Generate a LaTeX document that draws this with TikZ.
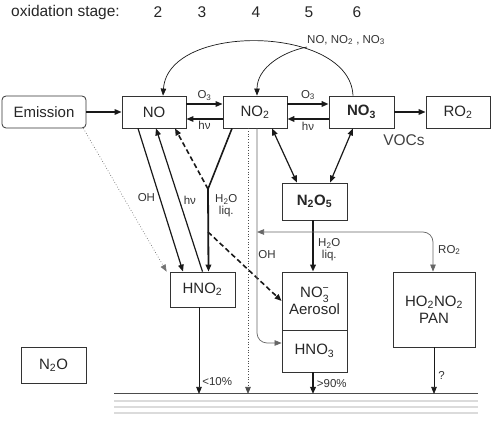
\documentclass[tikz,border=0pt]{standalone}
\usepackage{fontspec}
\setmainfont{Liberation Sans}
\usetikzlibrary{arrows.meta}

\begin{document}
\begin{tikzpicture}[x=1pt, y=-1pt,
  box/.style={draw=black!80, line width=0.8pt, inner sep=0pt, text=black!85,
    minimum width=64pt, minimum height=32pt, align=center, font=\fontsize{15}{17}\selectfont},
  lbl/.style={inner sep=1pt, text=black!80, font=\fontsize{11.5}{12}\selectfont},
  hdr/.style={inner sep=0pt, text=black!85, font=\fontsize{15.5}{17}\selectfont},
  tip/.style={-{Triangle[length=7pt, width=5.5pt]}},
  flow/.style={tip, draw=black!90, line width=1.2pt},
  heavy/.style={tip, draw=black!90, line width=2.2pt},
  thin/.style={tip, draw=black!90, line width=0.7pt},
  both/.style={{Triangle[length=7pt, width=5.5pt]}-{Triangle[length=7pt, width=5.5pt]}, draw=black!90, line width=1.2pt},
  wet/.style={tip, draw=black!90, line width=1.6pt, dash pattern=on 5pt off 3pt}]
\useasboundingbox (0,0) rectangle (493,427);

% header
\node[hdr, anchor=west] (oxs) at (11,12) {oxidation stage:};
\foreach \n/\x in {2/158, 3/202, 4/256, 5/309, 6/357}
  \node[hdr] (st\n) at (\x,12) {\n};

% boxes
\node[box, rounded corners=4pt, minimum width=84pt] (emis) at (44,112) {Emission};
\node[box] (no) at (154,112) {NO};
\node[box] (no2) at (255,112) {NO\textsubscript{2}};
\node[box, minimum width=65pt] (no3) at (361.5,112) {\textbf{NO\textsubscript{3}}};
\node[box] (ro2) at (458,112) {RO\textsubscript{2}};
\node[box, minimum width=65pt, minimum height=37pt] (n2o5) at (314.5,201.5) {\textbf{N\textsubscript{2}O\textsubscript{5}}};
\node[box, minimum width=65pt, minimum height=35pt] (hno2) at (202.5,289.5) {HNO\textsubscript{2}};
\node[box, minimum width=65pt, minimum height=58pt] (aer) at (314.5,301)
  {NO\raisebox{-4.5pt}{\fontsize{10.5}{9}\selectfont\shortstack{−\\3}}\\Aerosol};
\node[box, minimum width=65pt, minimum height=42pt] (hno3) at (314.5,351) {HNO\textsubscript{3}};
\node[box, minimum width=82pt, minimum height=75pt] (pan) at (434,309.5) {HO\textsubscript{2}NO\textsubscript{2}\\PAN};
\node[box, minimum width=65pt, minimum height=36pt] (n2o) at (53.5,365) {N\textsubscript{2}O};

% ground
\coordinate (gl) at (114,394);
\coordinate (gr) at (478,394);
\foreach \y in {401,407,413}
  \draw[black!14, line width=2.6pt] (114,\y) -- (478,\y);
\draw[black!70, line width=1pt] (gl) -- (gr);
\coordinate (g1) at (199,394);
\coordinate (g2) at (248,394);
\coordinate (g3) at (313,394);
\coordinate (g4) at (434,394);

% junctions
\coordinate (jn) at (208,189);
\coordinate (jd) at (208,232);
\coordinate (og) at (257,232);
\coordinate (br) at (307,47);

% horizontal chain
\draw[flow, line width=1.5pt] (emis) -- (no);
\draw[flow] ([yshift=8pt]no.east) -- ([yshift=8pt]no2.west)
  node[lbl, midway, above=2pt] (o3a) {O\textsubscript{3}};
\draw[flow] ([yshift=-7pt]no2.west) -- ([yshift=-7pt]no.east)
  node[lbl, midway, below=1pt] (hva) {hν};
\draw[flow, line width=2pt] ([yshift=8pt]no2.east) -- ([yshift=8pt]no3.west)
  node[lbl, midway, above=2pt] (o3b) {O\textsubscript{3}};
\draw[heavy] ([yshift=-7pt]no3.west) -- ([yshift=-7pt]no2.east)
  node[lbl, midway, below=1pt] (hvb) {hν};
\draw[flow, line width=1.6pt] (no3) -- (ro2);
\node[hdr, text=black!75] (vocs) at (404,140) {VOCs};

% back reactions
\node[lbl, anchor=west] (nox) at (306,40) {NO, NO\textsubscript{2} , NO\textsubscript{3}};
\draw[thin] ([xshift=-8.5pt]no3.north) .. controls (350,25) and (168,22) .. ([xshift=9pt]no.north);
\draw[thin] (br) .. controls (282,52) and (257,68) .. ([xshift=2pt]no2.north);

% NO <-> HNO2
\draw[flow] ([xshift=-16pt]no.south) -- ([xshift=-19.5pt]hno2.north)
  node[lbl, pos=0.48, left=3pt] (oha) {OH};
\draw[flow] (hno2.north) -- ([xshift=2pt]no.south)
  node[lbl, pos=0.5, right=3pt] (hvc) {hν};
\draw[thin, draw=black!55, dotted] ([xshift=-3pt]emis.south east) -- ([xshift=-3pt]hno2.north west);

% NO2 with liquid water
\draw[line width=1.6pt, draw=black!90] ([xshift=-23pt]no2.south) -- (jn);
\draw[wet] (jn) -- ([xshift=21pt]no.south);
\draw[heavy, line width=1.8pt] (jn) -- ([xshift=6pt]hno2.north);
\node[lbl, anchor=north west, align=center] (liqa) at (214,193) {H\textsubscript{2}O\\liq.};
\draw[wet] (jd) -- (aer.west);

% NO2 downwards
\draw[thin, dotted, draw=black!70] ([xshift=-7pt]no2.south) -- (g2);
\draw[thin, draw=black!60, rounded corners=10pt] ([xshift=2pt]no2.south) |- ([yshift=8pt]hno3.west);
\node[lbl] (ohb) at (267,255) {OH};

% N2O5
\draw[both] ([xshift=17pt]no2.south) -- ([xshift=-17.5pt]n2o5.north);
\draw[both] ([xshift=-8.5pt]no3.south) -- ([xshift=15.5pt]n2o5.north);
\draw[heavy, line width=1.8pt] ([xshift=-1.5pt]n2o5.south) -- ([xshift=-1.5pt]aer.north);
\node[lbl, anchor=north west, align=center] (liqb) at (317,237) {H\textsubscript{2}O\\liq.};

% RO2 branch
\draw[{Triangle[length=7pt, width=5.5pt]}-{Triangle[length=7pt, width=5.5pt]}, draw=black!60, line width=0.7pt, rounded corners=10pt]
  (og) -| ([xshift=-1pt]pan.north);
\node[lbl, anchor=west] (ro2l) at (437,250) {RO\textsubscript{2}};

% deposition
\draw[thin] ([xshift=-3.5pt]hno2.south) -- (g1)
  node[lbl, pos=0.86, right=2pt] (lt10) {<10\%};
\draw[heavy, line width=1.8pt] ([xshift=-1.5pt]hno3.south) -- (g3)
  node[lbl, midway, right=2pt] (gt90) {>90\%};
\draw[thin] (pan.south) -- (g4)
  node[lbl, pos=0.6, right=3pt] (qm) {?};
\end{tikzpicture}
\end{document}
